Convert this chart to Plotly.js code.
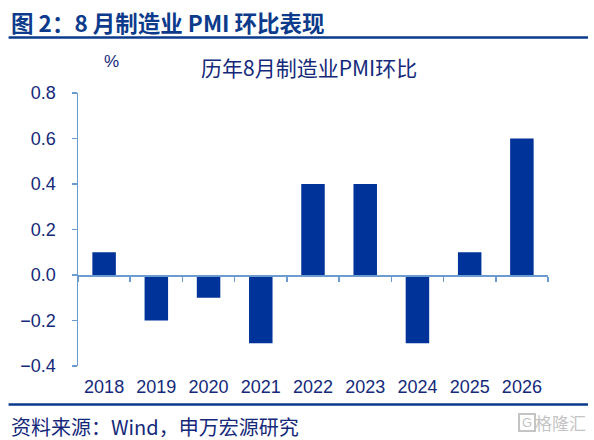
<!DOCTYPE html>
<html>
<head>
<meta charset="utf-8">
<script src="https://cdn.plot.ly/plotly-3.0.1.min.js"></script>
<style>html,body{margin:0;padding:0;background:#fff;}#chart{width:594px;height:440px;}</style>
</head>
<body>
<div id="chart"></div>
<script>
const categories = ['2018','2019','2020','2021','2022','2023','2024','2025','2026'];
const values = [0.1, -0.2, -0.1, -0.3, 0.4, 0.4, -0.3, 0.1, 0.6];
const yTicks = [-0.4, -0.2, 0.0, 0.2, 0.4, 0.6, 0.8];
const headerText = '图 2：8 月制造业 PMI 环比表现';
const chartTitle = '历年8月制造业PMI环比';
const unitText = '%';
const sourceText = '资料来源：Wind，申万宏源研究';
const watermark = '格隆汇';

const L = 77.5, R = 548, T = 93, B = 366;
const px = x => (x - L) / (R - L);
const py = y => (B - y) / (B - T);

const FONT = '"Liberation Sans", Arial, "Noto Sans CJK SC", sans-serif';
const CJK = '"Noto Sans CJK SC", "Liberation Sans", sans-serif';
const textColor = '#14297a';
const axisColor = '#6b9bd1';
const barColor = '#003399';

const traces = [
  {type:'bar', x:categories, y:values, marker:{color:barColor}, width:0.45, hoverinfo:'skip', showlegend:false},
  {type:'scatter', mode:'none', x:categories, y:values, xaxis:'x2', hoverinfo:'skip', showlegend:false}
];

const layout = {
  width:594, height:440,
  margin:{l:L, r:594-R, t:T, b:440-B, pad:0},
  paper_bgcolor:'#fff', plot_bgcolor:'#fff',
  showlegend:false,
  font:{family:FONT, color:textColor, size:18},
  xaxis:{type:'category', showline:false, ticks:'', showgrid:false, zeroline:false,
         tickfont:{family:FONT, size:18, color:textColor}, ticklabelstandoff:8, fixedrange:true},
  xaxis2:{type:'category', overlaying:'x', matches:'x', anchor:'free', position:py(275),
          showline:true, linecolor:axisColor, linewidth:1.5, ticks:'outside', tickson:'boundaries',
          ticklen:5, tickcolor:axisColor, tickwidth:1.5, showticklabels:false, showgrid:false, zeroline:false},
  yaxis:{range:[-0.4,0.8], tickvals:yTicks, tickformat:'.1f', showline:true, linecolor:axisColor, linewidth:1.5,
         ticks:'outside', ticklen:5, tickcolor:axisColor, tickwidth:1.5, showgrid:false, zeroline:false,
         tickfont:{family:FONT, size:18, color:textColor}, ticklabelstandoff:12, fixedrange:true},
  shapes:[
    {type:'line', xref:'paper', yref:'paper', x0:px(8), x1:px(588), y0:py(37.5), y1:py(37.5), line:{color:'#0b3a8c', width:2.5}},
    {type:'line', xref:'paper', yref:'paper', x0:px(8), x1:px(588), y0:py(404.5), y1:py(404.5), line:{color:'#0b3a8c', width:2.5}},
    {type:'rect', xref:'paper', yref:'paper', x0:px(519), x1:px(535), y0:py(431), y1:py(414), line:{color:'#c4c4c4', width:2}, fillcolor:'rgba(0,0,0,0)'}
  ],
  annotations:[
    {text:'<b>'+headerText+'</b>', xref:'paper', yref:'paper', x:px(8), y:py(22), xanchor:'left', yanchor:'middle',
     showarrow:false, font:{family:CJK, size:22.5, color:'#0d3b8c'}},
    {text:chartTitle, xref:'paper', yref:'paper', x:px(309), y:py(67), xanchor:'center', yanchor:'middle',
     showarrow:false, font:{family:CJK, size:21, color:textColor}},
    {text:unitText, xref:'paper', yref:'paper', x:px(111), y:py(62), xanchor:'center', yanchor:'middle',
     showarrow:false, font:{family:FONT, size:17, color:textColor}},
    {text:sourceText, xref:'paper', yref:'paper', x:px(8), y:py(426), xanchor:'left', yanchor:'middle',
     showarrow:false, font:{family:CJK, size:20, color:textColor}},
    {text:'G', xref:'paper', yref:'paper', x:px(527), y:py(422.5), xanchor:'center', yanchor:'middle',
     showarrow:false, font:{family:FONT, size:13, color:'#c4c4c4'}},
    {text:watermark, xref:'paper', yref:'paper', x:px(588), y:py(422.5), xanchor:'right', yanchor:'middle',
     showarrow:false, font:{family:CJK, size:17, color:'#c4c4c4'}}
  ]
};

Plotly.newPlot('chart', traces, layout, {staticPlot:true, displayModeBar:false});
</script>
</body>
</html>
